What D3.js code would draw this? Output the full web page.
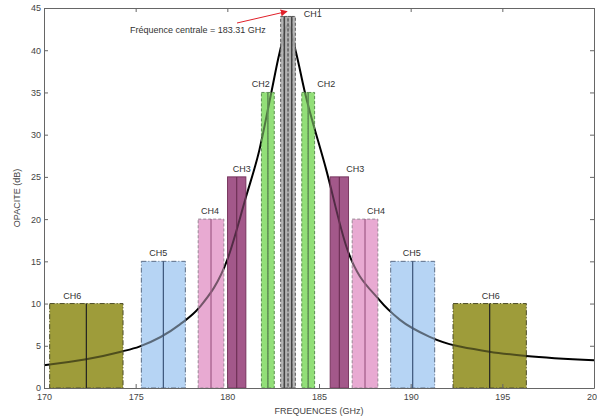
<!DOCTYPE html>
<html>
<head>
<meta charset="utf-8">
<script src="https://cdn.jsdelivr.net/npm/d3@7"></script>
<style>
  body { margin: 0; background: #fff; }
  text { font-family: "Liberation Sans", Arial, sans-serif; }
</style>
</head>
<body>
<script>
// channel data (symmetric around the central frequency)
var centerFreq = 183.31;
var channels = ["CH1", "CH2", "CH3", "CH4", "CH5", "CH6"];
var offsets = [0.2, 1.1, 2.8, 4.2, 6.8, 11.0];
var bandwidths = [0.2, 0.35, 0.5, 0.7, 1.2, 2.0];
var heights = [44, 35, 25, 20, 15, 10];

// opacity curve
var curveFreq = [170, 172.3, 174.2, 175.2, 177.4, 178.5, 180.0, 181.0, 181.75, 182.4, 182.85, 183.31,
                 183.75, 184.2, 185.4, 186.5, 188.3, 189.4, 191.1, 194.3, 196.3, 200];
var curveOpac = [2.7, 3.4, 4.3, 4.9, 7.5, 9.6, 15.2, 22.5, 28.2, 35, 39.7, 43,
                 39.7, 35.3, 25.8, 16.7, 10.4, 8.1, 6.0, 4.3, 3.8, 3.3];

var xTicks = [170, 175, 180, 185, 190, 195, 200];
var yTicks = [0, 5, 10, 15, 20, 25, 30, 35, 40, 45];

var width = 597, height = 419;
var margin = {left: 44, right: 3, top: 8, bottom: 31};

// styles per channel
var fills = ["#b4b4b4", "#92df78", "#a3588a", "#e8aad2", "#b6d4f4", "#9e9c3a"];
var tint = [0.9, 0.55, 0.5, 0.5, 0.5, 0.5];
var edge = ["#5a5a5a", "#5f8f55", "#7a3a62", "#9a8a96", "#5e6e86", "#4e4e2a"];
var edgeDash = ["3,2", "3,2", null, "3,2", "5,2,1,2", "5,2,1,2"];
var midLine = ["#444", "#5f8f55", "#6e3056", "#a05a86", "#3c5478", "#222"];
var labelNudgeL = [0, -7, 5, -1, -5, -14];
var labelNudgeR = [21, 18, 16, 11, -1, 1];

var svg = d3.select("body").append("svg")
    .attr("width", width)
    .attr("height", height);

svg.append("rect").attr("width", width).attr("height", height).attr("fill", "#fff");

var x = d3.scaleLinear().domain([170, 200]).range([margin.left, width - margin.right]);
var y = d3.scaleLinear().domain([0, 45]).range([height - margin.bottom, margin.top]);

// build the bar halves
var bars = [];
channels.forEach(function(ch, i) {
  [-1, 1].forEach(function(side) {
    var c = centerFreq + side * offsets[i];
    bars.push({ch: ch, i: i, side: side, c: c, lo: c - bandwidths[i], hi: c + bandwidths[i], h: heights[i]});
  });
});

var line = d3.line()
    .x(function(d) { return x(d[0]); })
    .y(function(d) { return y(d[1]); })
    .curve(d3.curveMonotoneX);
var curveData = curveFreq.map(function(f, k) { return [f, curveOpac[k]]; });

// bars, opaque first
var g = svg.append("g");
g.selectAll("rect.fill").data(bars).enter().append("rect")
    .attr("class", "fill")
    .attr("x", function(d) { return x(d.lo); })
    .attr("width", function(d) { return x(d.hi) - x(d.lo); })
    .attr("y", function(d) { return y(d.h); })
    .attr("height", function(d) { return y(0) - y(d.h); })
    .attr("fill", function(d) { return fills[d.i]; });

// curve
svg.append("path")
    .datum(curveData)
    .attr("d", line)
    .attr("fill", "none")
    .attr("stroke", "#000")
    .attr("stroke-width", 2);

// tint over the curve where it passes behind a bar
svg.append("g").selectAll("rect").data(bars).enter().append("rect")
    .attr("x", function(d) { return x(d.lo); })
    .attr("width", function(d) { return x(d.hi) - x(d.lo); })
    .attr("y", function(d) { return y(d.h); })
    .attr("height", function(d) { return y(0) - y(d.h); })
    .attr("fill", function(d) { return fills[d.i]; })
    .attr("fill-opacity", function(d) { return tint[d.i]; });

// outlines, dashed strips for CH1 / CH2
var sg = svg.append("g");
bars.forEach(function(d) {
  var i = d.i;
  if (i <= 1) {
    [d.lo, d.c].forEach(function(a) {
      sg.append("rect")
        .attr("x", x(a)).attr("y", y(d.h))
        .attr("width", x(a + bandwidths[i]) - x(a))
        .attr("height", y(0) - y(d.h))
        .attr("fill", "none")
        .attr("stroke", edge[i])
        .attr("stroke-width", 1)
        .attr("stroke-dasharray", edgeDash[i]);
    });
  } else {
    sg.append("rect")
      .attr("x", x(d.lo)).attr("y", y(d.h))
      .attr("width", x(d.hi) - x(d.lo))
      .attr("height", y(0) - y(d.h))
      .attr("fill", "none")
      .attr("stroke", edge[i])
      .attr("stroke-width", 1)
      .attr("stroke-dasharray", edgeDash[i]);
  }
  sg.append("line")
    .attr("x1", x(d.c)).attr("x2", x(d.c))
    .attr("y1", y(d.h)).attr("y2", y(0))
    .attr("stroke", midLine[i])
    .attr("stroke-width", i == 0 ? 1.5 : 1.2);
});

// channel labels
bars.forEach(function(d) {
  if (d.i == 0 && d.side == -1) return;
  var nudge = d.side < 0 ? labelNudgeL[d.i] : labelNudgeR[d.i];
  svg.append("text")
    .attr("x", x(d.c) + nudge)
    .attr("y", d.i == 0 ? y(d.h) + 1 : y(d.h) - 5)
    .attr("text-anchor", "middle")
    .attr("font-size", 9)
    .attr("fill", "#333")
    .text(d.ch);
});

// axes with inward ticks, boxed
var axisColor = "#666";
function styleAxis(sel) {
  sel.select(".domain").attr("stroke", axisColor);
  sel.selectAll(".tick line").attr("stroke", axisColor);
  sel.selectAll(".tick text").attr("fill", "#444").attr("font-size", 9)
     .style("font-family", "'Liberation Sans', Arial, sans-serif");
}
svg.append("g")
    .attr("transform", "translate(0," + y(0) + ")")
    .call(d3.axisBottom(x).tickValues(xTicks).tickSizeInner(-4).tickSizeOuter(0).tickPadding(6))
    .call(styleAxis);
svg.append("g")
    .attr("transform", "translate(0," + y(45) + ")")
    .call(d3.axisTop(x).tickValues(xTicks).tickSizeInner(-4).tickSizeOuter(0).tickFormat(""))
    .call(styleAxis);
svg.append("g")
    .attr("transform", "translate(" + x(170) + ",0)")
    .call(d3.axisLeft(y).tickValues(yTicks).tickSizeInner(-4).tickSizeOuter(0).tickPadding(3))
    .call(styleAxis);
svg.append("g")
    .attr("transform", "translate(" + x(200) + ",0)")
    .call(d3.axisRight(y).tickValues(yTicks).tickSizeInner(-4).tickSizeOuter(0).tickFormat(""))
    .call(styleAxis);

// axis titles
svg.append("text")
    .attr("x", (x(170) + x(200)) / 2)
    .attr("y", 414)
    .attr("text-anchor", "middle")
    .attr("font-size", 9)
    .attr("fill", "#444")
    .text("FREQUENCES (GHz)");
svg.append("text")
    .attr("transform", "translate(20," + (y(22.5)) + ") rotate(-90)")
    .attr("text-anchor", "middle")
    .attr("font-size", 9)
    .attr("fill", "#444")
    .text("OPACITE (dB)");

// central frequency annotation
svg.append("defs").append("marker")
    .attr("id", "arr")
    .attr("viewBox", "0 0 10 10")
    .attr("refX", 9).attr("refY", 5)
    .attr("markerWidth", 7).attr("markerHeight", 7)
    .attr("orient", "auto")
  .append("path")
    .attr("d", "M0,0 L10,5 L0,10 z")
    .attr("fill", "#e0202a");
svg.append("line")
    .attr("x1", 237).attr("y1", 23)
    .attr("x2", x(centerFreq) - 1).attr("y2", y(44) - 5)
    .attr("stroke", "#e0202a")
    .attr("stroke-width", 1)
    .attr("marker-end", "url(#arr)");
svg.append("text")
    .attr("x", 130)
    .attr("y", 33)
    .attr("font-size", 9)
    .attr("fill", "#333")
    .text("Fréquence centrale = " + centerFreq + " GHz");
</script>
</body>
</html>
